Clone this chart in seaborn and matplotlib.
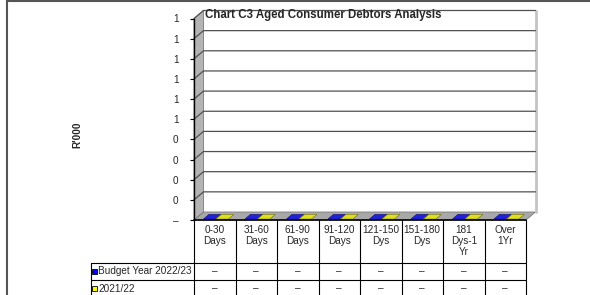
import numpy as np
import pandas as pd
import matplotlib
matplotlib.use("Agg")
import matplotlib.pyplot as plt
from matplotlib.patches import Polygon, Rectangle
import seaborn as sns

# chart data (all amounts are zero in the source)
categories = ["0-30\nDays", "31-60\nDays", "61-90\nDays", "91-120\nDays",
              "121-150\nDys", "151-180\nDys", "181\nDys-1\nYr", "Over\n1Yr"]
series_names = ["Budget Year 2022/23", "2021/22"]
budget_2022_23 = [0, 0, 0, 0, 0, 0, 0, 0]
year_2021_22 = [0, 0, 0, 0, 0, 0, 0, 0]
series_colors = ["#0000ff", "#ffff00"]
y_ticks = [0.0, 0.1, 0.2, 0.3, 0.4, 0.5, 0.6, 0.7, 0.8, 0.9, 1.0]
title = "Chart C3 Aged Consumer Debtors Analysis"
y_label = "R'000"

W, H, DPI = 590, 295, 100
DX, DY = 9.5, 8      # depth offset of the 3d walls, pixels

sns.set_style("white")
plt.rcParams["font.family"] = ["Liberation Sans", "DejaVu Sans"]

df = pd.DataFrame({
    "Category": categories * 2,
    "Series": [series_names[0]] * len(categories) + [series_names[1]] * len(categories),
    "Value": budget_2022_23 + year_2021_22,
})


def fmt(v):
    # excel accounting style: zero shows as a dash
    return "\u2013" if v == 0 else f"{int(np.floor(v + 0.5)):,}"


fig = plt.figure(figsize=(W / DPI, H / DPI), dpi=DPI)
ov = fig.add_axes([0, 0, 1, 1], zorder=0)
ov.set_xlim(0, W)
ov.set_ylim(H, 0)
ov.axis("off")

left, right, bottom, top = 194, 526, 220, 18.5
ax = fig.add_axes([left / W, 1 - bottom / H, (right - left) / W, (bottom - top) / H], zorder=1)
ax.patch.set_visible(False)
sns.barplot(data=df, x="Category", y="Value", hue="Series", palette=series_colors,
            width=0.6, linewidth=0, errorbar=None, legend=False, ax=ax)
ax.set_xlim(-0.5, len(categories) - 0.5)
ax.set_ylim(y_ticks[0], y_ticks[-1])


def to_px(x, y):
    X, Y = ax.transData.transform((x, y))
    return X, H - Y


def back(p, f=1.0):
    return (p[0] + DX * f, p[1] - DY * f)


x_lo, x_hi = ax.get_xlim()
fl, fr, tl = to_px(x_lo, y_ticks[0]), to_px(x_hi, y_ticks[0]), to_px(x_lo, y_ticks[-1])

# walls and floor
ov.add_patch(Polygon([back(tl), (back(fr)[0], back(tl)[1]), back(fr), back(fl)],
                     closed=True, facecolor="white", edgecolor="none"))
ov.add_patch(Polygon([fl, back(fl), back(tl), tl], closed=True,
                     facecolor="#b4b4b4", edgecolor="#7a7a7a", lw=0.6))
ov.add_patch(Polygon([fl, fr, back(fr), back(fl)], closed=True,
                     facecolor="#a8a8a8", edgecolor="#7a7a7a", lw=0.6))
ov.plot([back(fr)[0]] * 2, [back(fr)[1], back(tl)[1]], color="#c4c4c4", lw=2)

for v in y_ticks[1:]:
    p, q = to_px(x_lo, v), to_px(x_hi, v)
    ov.plot([p[0], back(p)[0], back(q)[0]], [p[1], back(p)[1], back(q)[1]],
            color="#505050", lw=0.9)

# zero-height bars drawn as flat slabs on the floor
for patch in ax.patches:
    x0, w, h = patch.get_x(), patch.get_width(), patch.get_height()
    p0, p1 = to_px(x0, h), to_px(x0 + w, h)
    fc = np.array(patch.get_facecolor())
    ec = tuple(fc[:3] * 0.5) + (1,)
    ov.add_patch(Polygon([back(p0, 0.12), back(p1, 0.12), back(p1, 0.7), back(p0, 0.7)],
                         closed=True, facecolor=fc, edgecolor=ec, lw=0.4))

# axis styling
for s in ["top", "right", "bottom"]:
    ax.spines[s].set_visible(False)
ax.spines["left"].set_color("black")
ax.spines["left"].set_linewidth(1)
ax.set_yticks(y_ticks)
ax.set_yticklabels([fmt(v) for v in y_ticks])
ax.tick_params(axis="y", length=3, width=0.8, pad=8, labelsize=7.2, color="black", left=True)
ax.tick_params(axis="x", length=0, labelbottom=False)
ax.set_xlabel("")
ax.set_ylabel(y_label, fontsize=7.2, fontweight="bold")
ax.yaxis.set_label_coords(82, 135, transform=ov.transData)

ov.text(205, 15, title, fontsize=8.3, fontweight="bold", ha="left", va="center")

# data table under the chart
xs = [to_px(i - 0.5, 0)[0] for i in range(len(categories) + 1)]
t_top, hdr_bot, row_h, lab_left = fl[1], 263, 17, 91
t_bot = hdr_bot + row_h * len(series_names)
ov.plot([xs[0], xs[-1]], [t_top, t_top], color="black", lw=1.2)
for k in range(len(series_names) + 1):
    y = hdr_bot + k * row_h
    ov.plot([lab_left, xs[-1]], [y, y], color="black", lw=0.8)
for x in xs:
    ov.plot([x, x], [t_top, t_bot], color="black", lw=0.8)
ov.plot([lab_left, lab_left], [hdr_bot, t_bot], color="black", lw=0.8)

for i, cat in enumerate(categories):
    cx = (xs[i] + xs[i + 1]) / 2
    ov.text(cx, t_top + 5, cat, fontsize=7.2, ha="center", va="top", linespacing=1.15)

for k, (name, vals, col) in enumerate(zip(series_names, [budget_2022_23, year_2021_22], series_colors)):
    cy = hdr_bot + row_h * (k + 0.5)
    ov.add_patch(Rectangle((92, cy - 2.5), 5, 5, facecolor=col, edgecolor="black", lw=0.6))
    ov.text(98, cy, name, fontsize=7.2, ha="left", va="center")
    for i, v in enumerate(vals):
        ov.text((xs[i] + xs[i + 1]) / 2, cy, fmt(v), fontsize=7.2, ha="center", va="center")

# outer chart frame
ov.plot([7, 7], [0, H], color="#555555", lw=1.5, clip_on=False)
ov.plot([7, W], [1, 1], color="#555555", lw=1.5, clip_on=False)

fig.savefig("out.png", dpi=DPI)
